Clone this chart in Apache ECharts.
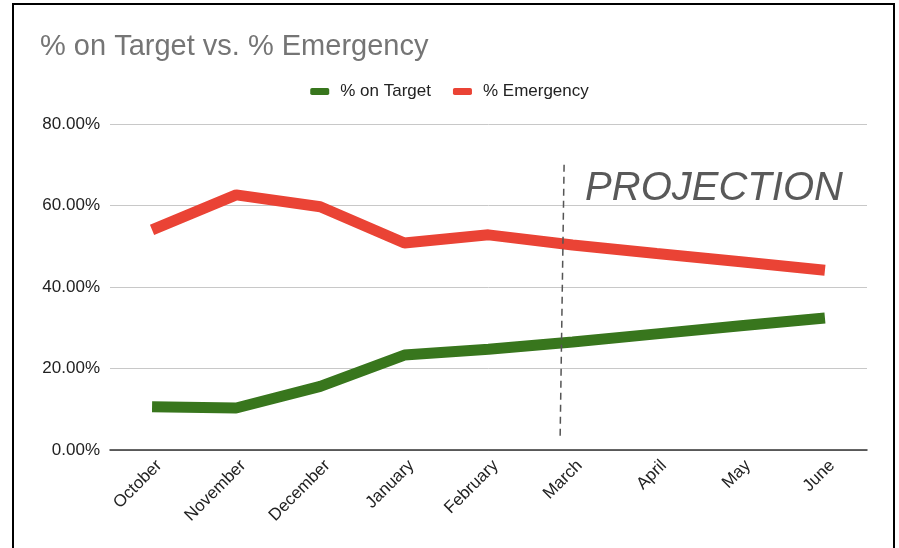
<!DOCTYPE html>
<html>
<head>
<meta charset="utf-8">
<script src="https://cdn.jsdelivr.net/npm/echarts@6/dist/echarts.min.js"></script>
<style>
  html, body { margin: 0; padding: 0; background: #fff; }
  #chart { width: 899px; height: 548px; }
  #frame { position: absolute; left: 12px; top: 3px; width: 879px; height: 560px;
           border: 2px solid #000; pointer-events: none; }
</style>
</head>
<body>
<div id="chart"></div>
<div id="frame"></div>
<script>
const months = ['October', 'November', 'December', 'January', 'February', 'March', 'April', 'May', 'June']
const onTarget = [10.6, 10.3, 15.6, 23.3, 24.7, 26.5, 28.5, 30.5, 32.4]
const emergency = [54.0, 62.6, 59.7, 50.8, 52.8, 50.3, 48.2, 46.2, 44.1]
const yTicks = [0, 20, 40, 60, 80]

const FONT = '"Liberation Sans", Arial, sans-serif'
const chart = echarts.init(document.getElementById('chart'))

const option = {
  backgroundColor: '#fff',
  animation: false,
  textStyle: { fontFamily: FONT },
  title: {
    text: '% on Target vs. % Emergency',
    left: 35,
    top: 27,
    textStyle: { color: '#757575', fontSize: 29, fontWeight: 'normal', fontFamily: FONT }
  },
  legend: {
    left: 'center',
    top: 78,
    itemWidth: 19,
    itemHeight: 7,
    itemGap: 22,
    icon: 'roundRect',
    textStyle: { color: '#222', fontSize: 17, fontFamily: FONT, padding: [0, 0, 0, 6] },
    data: ['% on Target', '% Emergency']
  },
  grid: { left: 110, right: 32, top: 124, bottom: 98 },
  xAxis: {
    type: 'category',
    data: months,
    axisTick: { show: false },
    axisLine: { lineStyle: { color: '#333', width: 1.5 } },
    axisLabel: {
      rotate: 45, color: '#222', fontSize: 17, margin: 20, fontFamily: FONT,
      padding: [0, -10, 0, 0]
    }
  },
  yAxis: {
    type: 'value',
    min: yTicks[0],
    max: yTicks[yTicks.length - 1],
    interval: 20,
    axisLine: { show: false },
    axisTick: { show: false },
    splitLine: { lineStyle: { color: '#c8c8c8', width: 1 } },
    axisLabel: {
      color: '#222', fontSize: 17, margin: 10, fontFamily: FONT,
      formatter: v => v.toFixed(2) + '%'
    }
  },
  series: [
    {
      name: '% on Target',
      type: 'line',
      data: onTarget,
      showSymbol: false,
      color: '#38761d',
      lineStyle: { width: 11, color: '#38761d' },
      z: 3
    },
    {
      name: '% Emergency',
      type: 'line',
      data: emergency,
      showSymbol: false,
      color: '#ea4335',
      lineStyle: { width: 11, color: '#ea4335' },
      z: 3
    }
  ]
}
chart.setOption(option)

// projection divider, a bit before March
const pFeb = chart.convertToPixel({ xAxisIndex: 0 }, 'February')
const pMar = chart.convertToPixel({ xAxisIndex: 0 }, 'March')
const xDiv = pFeb + 0.875 * (pMar - pFeb)
const yTop = chart.convertToPixel({ yAxisIndex: 0 }, 70)
const yBot = chart.convertToPixel({ yAxisIndex: 0 }, 2.5)

chart.setOption({
  graphic: [
    {
      type: 'line',
      shape: { x1: xDiv + 2, y1: yTop, x2: xDiv - 2, y2: yBot },
      style: { stroke: '#555', lineWidth: 1.5, lineDash: [7, 5] },
      z: 10
    },
    {
      type: 'text',
      left: xDiv + 23,
      top: yTop + 4,
      style: {
        text: 'PROJECTION',
        fill: '#595959',
        font: 'italic 40px ' + FONT
      },
      z: 10
    }
  ]
})
</script>
</body>
</html>
